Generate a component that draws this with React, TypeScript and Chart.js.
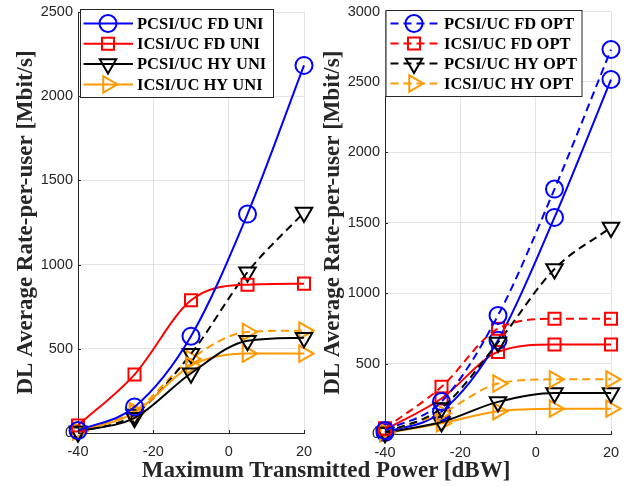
import { useEffect, useRef } from 'react';
import { Chart, registerables } from 'chart.js';

Chart.register(...registerables);

// ---------- data ----------
const xValues = [-40, -25, -10, 5, 20];

// left panel (UNI)
const pcsiFdUni = [15, 155, 575, 1300, 2183];
const icsiFdUni = [45, 347, 788, 881, 887];
const pcsiHyUni = [10, 90, 355, 548, 566];
const icsiHyUni = [10, 120, 400, 472, 472];
const pcsiHyUniDash = [5, 110, 470, 955, 1310];
const icsiHyUniDash = [12, 130, 440, 600, 608];

// right panel (OPT)
const pcsiFdOpt = [25, 230, 842, 1739, 2730];
const icsiFdOpt = [40, 335, 748, 818, 819];
const pcsiHyOpt = [10, 185, 650, 1172, 1467];
const icsiHyOpt = [15, 148, 358, 388, 388];
const pcsiFdOptSolid = [10, 158, 665, 1538, 2517];
const icsiFdOptSolid = [30, 252, 583, 635, 635];
const pcsiHyOptSolid = [10, 85, 228, 292, 292];
const icsiHyOptSolid = [5, 76, 162, 180, 180];

const leftLabels = ['PCSI/UC FD UNI', 'ICSI/UC FD UNI', 'PCSI/UC HY UNI', 'ICSI/UC HY UNI'];
const rightLabels = ['PCSI/UC FD OPT', 'ICSI/UC FD OPT', 'PCSI/UC HY OPT', 'ICSI/UC HY OPT'];

const BLUE = '#0000ff';
const RED = '#ff0000';
const BLACK = '#000000';
const ORANGE = '#ff9900';
const AXIS = '#262626';

type Marker = 'circle' | 'rect' | 'down' | 'right';
interface Series {
  label: string;
  data: number[];
  color: string;
  dashed: boolean;
  marker: Marker;
  legend: boolean;
}

const leftSeries: Series[] = [
  { label: leftLabels[0], data: pcsiFdUni, color: BLUE, dashed: false, marker: 'circle', legend: true },
  { label: leftLabels[1], data: icsiFdUni, color: RED, dashed: false, marker: 'rect', legend: true },
  { label: leftLabels[2], data: pcsiHyUni, color: BLACK, dashed: false, marker: 'down', legend: true },
  { label: leftLabels[3], data: icsiHyUni, color: ORANGE, dashed: false, marker: 'right', legend: true },
  { label: 'PCSI/UC HY (dashed)', data: pcsiHyUniDash, color: BLACK, dashed: true, marker: 'down', legend: false },
  { label: 'ICSI/UC HY (dashed)', data: icsiHyUniDash, color: ORANGE, dashed: true, marker: 'right', legend: false },
];

const rightSeries: Series[] = [
  { label: rightLabels[0], data: pcsiFdOpt, color: BLUE, dashed: true, marker: 'circle', legend: true },
  { label: rightLabels[1], data: icsiFdOpt, color: RED, dashed: true, marker: 'rect', legend: true },
  { label: rightLabels[2], data: pcsiHyOpt, color: BLACK, dashed: true, marker: 'down', legend: true },
  { label: rightLabels[3], data: icsiHyOpt, color: ORANGE, dashed: true, marker: 'right', legend: true },
  { label: 'PCSI/UC FD (solid)', data: pcsiFdOptSolid, color: BLUE, dashed: false, marker: 'circle', legend: false },
  { label: 'ICSI/UC FD (solid)', data: icsiFdOptSolid, color: RED, dashed: false, marker: 'rect', legend: false },
  { label: 'PCSI/UC HY (solid)', data: pcsiHyOptSolid, color: BLACK, dashed: false, marker: 'down', legend: false },
  { label: 'ICSI/UC HY (solid)', data: icsiHyOptSolid, color: ORANGE, dashed: false, marker: 'right', legend: false },
];

const DASH = [8, 5];

function markerRadius(m: Marker) {
  if (m === 'circle') return 8.5;
  if (m === 'rect') return 8.5;
  return 9.5;
}

function toDataset(s: Series) {
  return {
    label: s.label,
    data: xValues.map((x, i) => ({ x, y: s.data[i] })),
    borderColor: s.color,
    backgroundColor: 'transparent',
    borderWidth: 2,
    borderDash: s.dashed ? DASH : [],
    pointStyle: s.marker === 'circle' ? 'circle' : s.marker === 'rect' ? 'rect' : 'triangle',
    pointRotation: s.marker === 'down' ? 180 : s.marker === 'right' ? 90 : 0,
    pointRadius: markerRadius(s.marker),
    pointBorderWidth: 2,
    pointBorderColor: s.color,
    pointBackgroundColor: 'transparent',
    cubicInterpolationMode: 'monotone',
    fill: false,
    clip: false,
  };
}

function drawMarker(ctx: CanvasRenderingContext2D, m: Marker, x: number, y: number, r: number) {
  ctx.beginPath();
  if (m === 'circle') {
    ctx.arc(x, y, r, 0, Math.PI * 2);
  } else if (m === 'rect') {
    const s = r * Math.SQRT1_2;
    ctx.rect(x - s, y - s, 2 * s, 2 * s);
  } else {
    let rad = ((m === 'down' ? 180 : 90) * Math.PI) / 180;
    for (let k = 0; k < 3; k++) {
      const px = x + Math.sin(rad) * r;
      const py = y - Math.cos(rad) * r;
      if (k === 0) ctx.moveTo(px, py);
      else ctx.lineTo(px, py);
      rad += (2 * Math.PI) / 3;
    }
    ctx.closePath();
  }
  ctx.stroke();
}

interface LegendBox {
  x: number;
  y: number;
  w: number;
  h: number;
  firstRow: number;
  rowGap: number;
  lineX0: number;
  lineX1: number;
  markerX: number;
  textX: number;
}

function makeOverlayPlugin(series: Series[], box: LegendBox) {
  return {
    id: 'overlay',
    afterDraw(chart: any) {
      const ctx: CanvasRenderingContext2D = chart.ctx;
      const area = chart.chartArea;
      const xs = chart.scales.x;
      const ys = chart.scales.y;
      ctx.save();
      // inward tick marks
      ctx.strokeStyle = AXIS;
      ctx.lineWidth = 1;
      ctx.setLineDash([]);
      ys.ticks.forEach((t: any) => {
        const py = Math.round(ys.getPixelForValue(t.value)) + 0.5;
        ctx.beginPath();
        ctx.moveTo(area.left, py);
        ctx.lineTo(area.left + 3, py);
        ctx.stroke();
      });
      xs.ticks.forEach((t: any) => {
        const px = Math.round(xs.getPixelForValue(t.value)) + 0.5;
        ctx.beginPath();
        ctx.moveTo(px, area.bottom);
        ctx.lineTo(px, area.bottom - 3);
        ctx.stroke();
      });
      // legend box
      ctx.fillStyle = '#ffffff';
      ctx.fillRect(box.x, box.y, box.w, box.h);
      ctx.strokeStyle = AXIS;
      ctx.lineWidth = 1;
      ctx.strokeRect(box.x + 0.5, box.y + 0.5, box.w, box.h);
      const entries = series.filter((s) => s.legend);
      ctx.font = 'bold 16.5px "Liberation Serif", "Times New Roman", serif';
      ctx.textBaseline = 'middle';
      ctx.textAlign = 'left';
      entries.forEach((s, i) => {
        const cy = box.y + box.firstRow + i * box.rowGap;
        ctx.strokeStyle = s.color;
        ctx.lineWidth = 2;
        ctx.setLineDash(s.dashed ? DASH : []);
        ctx.beginPath();
        ctx.moveTo(box.lineX0, cy);
        ctx.lineTo(box.lineX1, cy);
        ctx.stroke();
        ctx.setLineDash([]);
        drawMarker(ctx, s.marker, box.markerX, cy, markerRadius(s.marker));
        ctx.fillStyle = '#000000';
        ctx.fillText(s.label, box.textX, cy + 1);
      });
      ctx.restore();
    },
  };
}

function makeConfig(series: Series[], yMax: number, padTop: number, xHeight: number, box: LegendBox) {
  const tickFont = { family: '"Liberation Sans", Arial, sans-serif', size: 14.5 };
  return {
    type: 'line' as const,
    data: { datasets: series.map(toDataset) },
    options: {
      animation: false as const,
      responsive: false,
      maintainAspectRatio: false,
      layout: { padding: { top: padTop, right: 13, bottom: 0, left: 0 } },
      plugins: { legend: { display: false }, tooltip: { enabled: false } },
      scales: {
        x: {
          type: 'linear' as const,
          min: -40,
          max: 20,
          ticks: {
            stepSize: 20,
            color: AXIS,
            font: tickFont,
            padding: 10,
            callback: (v: any) => String(v),
          },
          grid: { color: 'rgba(38,38,38,0.13)', lineWidth: 1, drawTicks: false },
          border: { display: true, color: AXIS, width: 1 },
          afterFit: (s: any) => {
            s.height = xHeight;
            s.paddingLeft = 0;
            s.paddingRight = 0;
          },
        },
        y: {
          type: 'linear' as const,
          min: 0,
          max: yMax,
          ticks: {
            stepSize: 500,
            color: AXIS,
            font: tickFont,
            padding: 5,
            callback: (v: any) => String(v),
          },
          grid: { color: 'rgba(38,38,38,0.13)', lineWidth: 1, drawTicks: false },
          border: { display: true, color: AXIS, width: 1 },
          title: {
            display: true,
            text: 'DL Average Rate-per-user [Mbit/s]',
            color: AXIS,
            font: { family: '"Liberation Serif", "Times New Roman", serif', size: 23, weight: 'bold' as const, lineHeight: 1.2 },
            padding: { top: 12.5, bottom: 0 },
          },
          afterFit: (s: any) => {
            s.width = 78;
            s.paddingTop = 0;
            s.paddingBottom = 0;
          },
        },
      },
    },
    plugins: [makeOverlayPlugin(series, box)],
  };
}

const leftBox: LegendBox = { x: 80, y: 9, w: 193, h: 88, firstRow: 14.5, rowGap: 20.3, lineX0: 83.5, lineX1: 133, markerX: 108, textX: 137 };
const rightBox: LegendBox = { x: 78.5, y: 10, w: 196, h: 86, firstRow: 13.5, rowGap: 20, lineX0: 83.5, lineX1: 133.5, markerX: 107, textX: 137 };

function Panel({ series, yMax, padTop, xHeight, box, left }: any) {
  const ref = useRef<HTMLCanvasElement | null>(null);
  useEffect(() => {
    if (!ref.current) return;
    const chart = new Chart(ref.current, makeConfig(series, yMax, padTop, xHeight, box) as any);
    return () => chart.destroy();
  }, []);
  return (
    <canvas
      ref={ref}
      width={317}
      height={487}
      style={{ position: 'absolute', left, top: 0, width: 317, height: 487, display: 'block' }}
    />
  );
}

export default function App() {
  return (
    <div style={{ position: 'fixed', left: 0, top: 0, width: 634, height: 487, background: '#ffffff', overflow: 'hidden' }}>
      <Panel series={leftSeries} yMax={2500} padTop={12} xHeight={54} box={leftBox} left={0} />
      <Panel series={rightSeries} yMax={3000} padTop={10} xHeight={53} box={rightBox} left={307} />
      <div
        style={{
          position: 'absolute',
          left: 0,
          width: 652,
          top: 456,
          textAlign: 'center',
          font: 'bold 23px "Liberation Serif", "Times New Roman", serif',
          color: AXIS,
          lineHeight: '27px',
          whiteSpace: 'nowrap',
        }}
      >
        Maximum Transmitted Power [dBW]
      </div>
    </div>
  );
}
